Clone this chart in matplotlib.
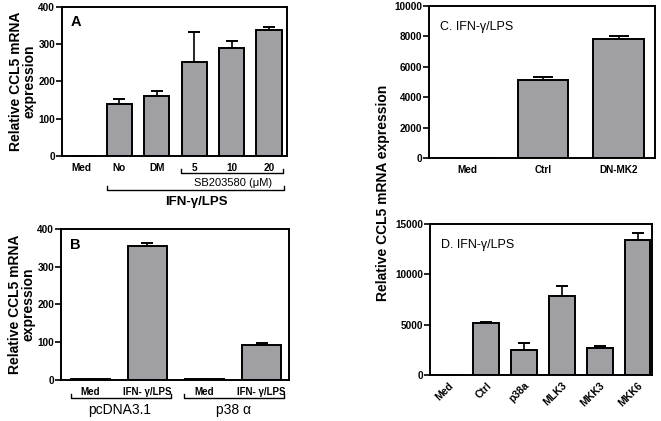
import matplotlib
matplotlib.use("Agg")
import matplotlib.pyplot as plt
import matplotlib.transforms as mtransforms

plt.rcParams['font.family'] = ['Liberation Sans', 'DejaVu Sans']

# ---- data ----
a_cats = ["Med", "No", "DM", "5", "10", "20"]
a_vals = [0, 140, 162, 253, 290, 337]
a_err = [0, 12, 12, 79, 20, 10]

b_cats = ["Med", "IFN- \u03b3/LPS", "Med", "IFN- \u03b3/LPS"]
b_vals = [2, 355, 2, 93]
b_err = [0, 7, 0, 4]

c_cats = ["Med", "Ctrl", "DN-MK2"]
c_vals = [0, 5150, 7820]
c_err = [0, 180, 180]

d_cats = ["Med", "Ctrl", "p38a", "MLK3", "MKK3", "MKK6"]
d_vals = [0, 5150, 2500, 7800, 2700, 13450]
d_err = [0, 150, 700, 1000, 150, 650]

BAR = "#a0a0a4"
fig = plt.figure(figsize=(6.61, 4.21), dpi=100)


def style(ax, ymax, step, xsize=7.2):
    for s in ax.spines.values():
        s.set_linewidth(1.4)
    ax.set_ylim(0, ymax)
    ax.set_yticks(range(0, ymax + 1, step))
    ax.tick_params(axis='y', direction='out', length=4, width=1.2, labelsize=7.2, pad=1)
    ax.tick_params(axis='x', length=0, labelsize=xsize, pad=5)
    for lab in ax.get_yticklabels() + ax.get_xticklabels():
        lab.set_fontweight('bold')


def bars(ax, vals, err, cap, width=0.67):
    x = list(range(len(vals)))
    ax.bar(x, vals, width=width, color=BAR, edgecolor='black', linewidth=1.4, zorder=2)
    lo = [0] * len(err)
    ax.errorbar(x, vals, yerr=[lo, err], fmt='none', ecolor='black',
                elinewidth=1.2, capsize=cap, capthick=1.4, zorder=1)


def bracket(ax, x0, x1, y, ytip):
    tr = mtransforms.blended_transform_factory(ax.transData, ax.transAxes)
    ax.plot([x0, x0, x1, x1], [ytip, y, y, ytip], color='black', lw=1.0,
            transform=tr, clip_on=False)


# ---- Panel A ----
axA = fig.add_axes([0.0938, 0.6295, 0.3404, 0.3539])
bars(axA, a_vals, a_err, 4.5)
axA.set_xlim(-0.53, 5.48)
axA.set_xticks(range(len(a_cats)))
axA.set_xticklabels(a_cats)
style(axA, 400, 100)
axA.set_ylabel("Relative CCL5 mRNA\nexpression", fontsize=10, fontweight='bold',
               labelpad=1, linespacing=0.95)
axA.text(0.04, 0.87, "A", transform=axA.transAxes, fontsize=10.5, fontweight='bold')
trA = mtransforms.blended_transform_factory(axA.transData, axA.transAxes)
bracket(axA, 2.64, 5.37, -0.114, -0.085)
axA.text(4.03, -0.178, "SB203580 (\u03bcM)", transform=trA, ha='center', va='center',
         fontsize=8)
bracket(axA, 0.67, 5.41, -0.228, -0.2)
axA.text(3.07, -0.31, "IFN-\u03b3/LPS", transform=trA, ha='center', va='center',
         fontsize=9.5, fontweight='bold')

# ---- Panel B ----
axB = fig.add_axes([0.0923, 0.0974, 0.345, 0.3587])
bars(axB, b_vals, b_err, 4.5, width=0.68)
axB.set_xlim(-0.51, 3.48)
axB.set_xticks(range(len(b_cats)))
axB.set_xticklabels(b_cats)
style(axB, 400, 100, xsize=7)
axB.set_ylabel("Relative CCL5 mRNA\nexpression", fontsize=10, fontweight='bold',
               labelpad=1, linespacing=0.95)
axB.text(0.04, 0.87, "B", transform=axB.transAxes, fontsize=10.5, fontweight='bold')
trB = mtransforms.blended_transform_factory(axB.transData, axB.transAxes)
bracket(axB, -0.33, 1.41, -0.12, -0.093)
bracket(axB, 1.64, 3.40, -0.12, -0.093)
axB.text(0.52, -0.2, "pcDNA3.1", transform=trB, ha='center', va='center', fontsize=10)
axB.text(2.5, -0.2, "p38 \u03b1", transform=trB, ha='center', va='center', fontsize=10)

# ---- Panel C ----
axC = fig.add_axes([0.649, 0.6247, 0.3419, 0.361])
bars(axC, c_vals, c_err, 7)
axC.set_xlim(-0.51, 2.48)
axC.set_xticks(range(len(c_cats)))
axC.set_xticklabels(c_cats)
style(axC, 10000, 2000)
axC.text(0.05, 0.84, "C. IFN-\u03b3/LPS", transform=axC.transAxes, fontsize=9)

# ---- Panel D ----
axD = fig.add_axes([0.6505, 0.1093, 0.3359, 0.3587])
bars(axD, d_vals, d_err, 4.5, width=0.68)
axD.set_xlim(-0.49, 5.38)
axD.set_xticks(range(len(d_cats)))
axD.set_xticklabels(d_cats, rotation=45, ha='right', rotation_mode='anchor')
style(axD, 15000, 5000, xsize=7.5)
axD.tick_params(axis='x', pad=4)
axD.text(0.05, 0.84, "D. IFN-\u03b3/LPS", transform=axD.transAxes, fontsize=9)

fig.text(0.579, 0.5416, "Relative CCL5 mRNA expression", rotation=90,
         ha='center', va='center', fontsize=10, fontweight='bold')

fig.savefig("out.png", dpi=100)
